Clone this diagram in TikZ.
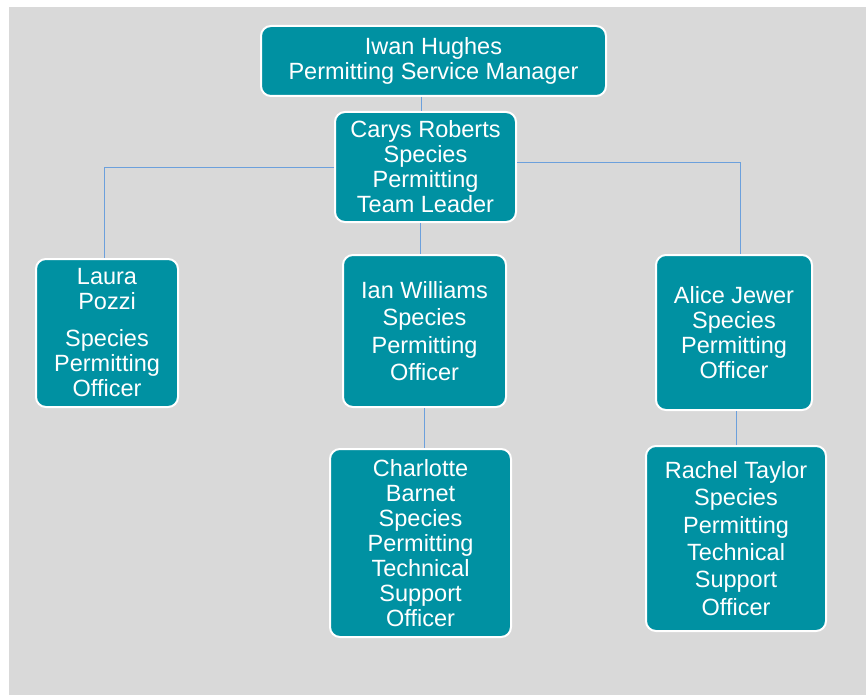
\documentclass[tikz,border=0pt]{standalone}
\usepackage{fontspec}
\setmainfont{Liberation Sans}
\definecolor{boxteal}{RGB}{0,145,162}
\definecolor{linkblue}{RGB}{108,160,220}
\definecolor{pagegray}{RGB}{217,217,217}

\begin{document}
\begin{tikzpicture}[x=1pt, y=-1pt,
  person/.style={draw=white, line width=2pt, fill=boxteal, rounded corners=10pt,
    text=white, align=center, inner sep=0pt, font=\fontsize{23.5}{25}\selectfont},
  wide/.style={font=\fontsize{23.5}{27.3}\selectfont},
  link/.style={draw=linkblue, line width=0.8pt}]
\useasboundingbox (0,0) rectangle (866,695);
% grey page
\fill[pagegray] (9,7) rectangle (866,695);

% top of the team
\node[person, minimum width=345pt, minimum height=70pt] (iwan) at (433.5,61) {Iwan Hughes\\Permitting Service Manager};
\node[person, minimum width=181pt, minimum height=110pt] (carys) at (425.5,167) {Carys Roberts\\Species\\Permitting\\Team Leader};

% officers
\node[person, minimum width=142pt, minimum height=148pt] (laura) at (107,333) {Laura\\Pozzi\\[12pt]Species\\Permitting\\Officer};
\node[person, wide, minimum width=163pt, minimum height=152pt] (ian) at (424.5,331) {Ian Williams\\Species\\Permitting\\Officer};
\node[person, minimum width=156pt, minimum height=155pt] (alice) at (734,332.5) {Alice Jewer\\Species\\Permitting\\Officer};

% technical support
\node[person, minimum width=181pt, minimum height=188pt] (charlotte) at (420.5,543) {Charlotte\\Barnet\\Species\\Permitting\\Technical\\Support\\Officer};
\node[person, wide, minimum width=180pt, minimum height=185pt] (rachel) at (736,538.5) {Rachel Taylor\\Species\\Permitting\\Technical\\Support\\Officer};

% connectors
\draw[link] ([xshift=-4pt]carys.north) -- ([xshift=-4pt]carys.north |- iwan.south);
\draw[link] (carys.west) -| ([xshift=-3pt]laura.north);
\draw[link] ([yshift=5pt]carys.east) -| ([xshift=6pt]alice.north);
\draw[link] ([xshift=-5pt]carys.south) -- ([xshift=-5pt]carys.south |- ian.north);
\draw[link] (ian.south) -- (ian.south |- charlotte.north);
\draw[link] (rachel.north) -- (rachel.north |- alice.south);
\end{tikzpicture}
\end{document}
